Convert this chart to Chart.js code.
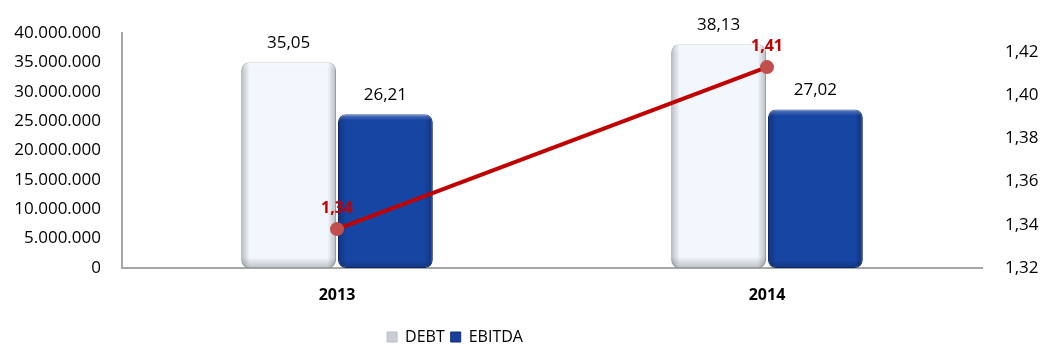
<!DOCTYPE html>
<html>
<head>
<meta charset="utf-8">
<script src="https://cdn.jsdelivr.net/npm/chart.js@4"></script>
<style>
  html, body { margin: 0; padding: 0; background: #ffffff; }
  #wrap { width: 1046px; height: 349px; position: relative; }
</style>
</head>
<body>
<div id="wrap"><canvas id="c" width="1046" height="349"></canvas></div>
<script>
// ---- data ----
const categories = ['2013', '2014'];
const debtValues = [35050000, 38130000];
const ebitdaValues = [26210000, 27020000];
const ratioValues = [1.338, 1.413];
const leftTicks = [0, 5000000, 10000000, 15000000, 20000000, 25000000, 30000000, 35000000, 40000000];
const rightTicks = [1.32, 1.34, 1.36, 1.38, 1.40, 1.42];

const FONT = "'Open Sans', 'DejaVu Sans', sans-serif";

function thousands(v) {
  return String(Math.round(v)).replace(/\B(?=(\d{3})+(?!\d))/g, '.');
}
function comma2(v) { return v.toFixed(2).replace('.', ','); }

const barShade = {
  id: 'barShade',
  afterDatasetDraw(chart, args) {
    const meta = args.meta;
    if (meta.type !== 'bar') return;
    const ctx = chart.ctx;
    meta.data.forEach(el => {
      const p = el.getProps(['x', 'y', 'base', 'width'], true);
      const l = p.x - p.width / 2, r = p.x + p.width / 2;
      const t = Math.min(p.y, p.base), b = Math.max(p.y, p.base);
      ctx.save();
      ctx.beginPath();
      ctx.roundRect(l, t, r - l, b - t, 8);
      ctx.clip();
      const g = ctx.createLinearGradient(l, 0, r, 0);
      g.addColorStop(0, 'rgba(0,0,0,0.24)');
      g.addColorStop(0.09, 'rgba(0,0,0,0)');
      g.addColorStop(0.91, 'rgba(0,0,0,0)');
      g.addColorStop(1, 'rgba(0,0,0,0.24)');
      ctx.fillStyle = g;
      ctx.fillRect(l, t, r - l, b - t);
      const gv = ctx.createLinearGradient(0, t, 0, b);
      gv.addColorStop(0, 'rgba(255,255,255,0.3)');
      gv.addColorStop(0.04, 'rgba(255,255,255,0)');
      gv.addColorStop(0.95, 'rgba(0,0,0,0)');
      gv.addColorStop(1, 'rgba(0,0,0,0.22)');
      ctx.fillStyle = gv;
      ctx.fillRect(l, t, r - l, b - t);
      ctx.restore();
    });
  }
};

const valueLabels = {
  id: 'valueLabels',
  afterDatasetsDraw(chart) {
    const ctx = chart.ctx;
    ctx.save();
    ctx.textAlign = 'center';
    ctx.textBaseline = 'middle';
    chart.data.datasets.forEach((ds, di) => {
      const meta = chart.getDatasetMeta(di);
      meta.data.forEach((el, i) => {
        const v = ds.data[i];
        if (meta.type === 'bar') {
          ctx.font = '17px ' + FONT;
          ctx.fillStyle = '#000000';
          ctx.fillText(comma2(v / 1000000), el.x, el.y - 19);
        } else {
          ctx.font = 'bold 16px ' + FONT;
          ctx.fillStyle = '#c00000';
          ctx.fillText(comma2(v), el.x, el.y - 21);
        }
      });
    });
    ctx.restore();
  }
};

const legendShift = {
  id: 'legendShift',
  afterLayout(chart) {
    const lg = chart.legend;
    if (!lg) return;
    lg.left = 0;
    lg.right = 910;
    lg.width = 910;
  }
};

new Chart(document.getElementById('c'), {
  data: {
    labels: categories,
    datasets: [
      {
        type: 'line',
        label: 'DEBT/EBITDA',
        data: ratioValues,
        yAxisID: 'y2',
        borderColor: '#c00000',
        borderWidth: 4,
        pointRadius: 7,
        pointBackgroundColor: '#c0504d',
        pointBorderColor: '#c0504d',
        pointBorderWidth: 0,
        order: 0
      },
      {
        type: 'bar',
        label: 'DEBT',
        data: debtValues,
        yAxisID: 'y',
        backgroundColor: '#f2f6fd',
        borderColor: '#c3c8d0',
        borderWidth: 1,
        borderRadius: 8,
        borderSkipped: false,
        barPercentage: 0.98,
        categoryPercentage: 0.45,
        order: 1
      },
      {
        type: 'bar',
        label: 'EBITDA',
        data: ebitdaValues,
        yAxisID: 'y',
        backgroundColor: '#1745a4',
        borderColor: '#0b2f86',
        borderWidth: 1,
        borderRadius: 8,
        borderSkipped: false,
        barPercentage: 0.98,
        categoryPercentage: 0.45,
        order: 1
      }
    ]
  },
  options: {
    responsive: false,
    animation: false,
    layout: { padding: { top: 31, bottom: -6, left: 0, right: 0 } },
    plugins: {
      tooltip: { enabled: false },
      legend: {
        position: 'bottom',
        labels: {
          font: { family: FONT, size: 16 },
          color: '#000000',
          boxWidth: 10,
          boxHeight: 10,
          padding: 6,
          filter: item => item.text !== 'DEBT/EBITDA',
          generateLabels(chart) {
            const items = Chart.defaults.plugins.legend.labels.generateLabels(chart);
            items.forEach(it => {
              if (it.text === 'DEBT') { it.fillStyle = '#c9cdd5'; it.strokeStyle = '#b8bcc4'; }
              if (it.text === 'EBITDA') { it.fillStyle = '#1a3f9a'; it.strokeStyle = '#0b2f86'; }
              it.lineWidth = 1;
            });
            return items;
          }
        }
      }
    },
    scales: {
      x: {
        grid: { display: false, drawTicks: false },
        border: { display: true, color: '#a6a6a6', width: 2 },
        ticks: { font: { family: FONT, size: 16, weight: 'bold' }, color: '#000000', padding: 18 },
        afterFit(s) { s.height = 55; }
      },
      y: {
        position: 'left',
        min: 0,
        max: 40000000,
        grid: { display: false, drawTicks: false },
        border: { display: true, color: '#a6a6a6', width: 2 },
        afterBuildTicks(s) { s.ticks = leftTicks.map(v => ({ value: v })); },
        ticks: {
          font: { family: FONT, size: 17 },
          color: '#000000',
          padding: 21,
          callback: v => thousands(v)
        },
        afterFit(s) { s.width = 122; }
      },
      y2: {
        position: 'right',
        min: 1.32,
        max: 1.4287,
        grid: { display: false, drawTicks: false },
        border: { display: false },
        afterBuildTicks(s) { s.ticks = rightTicks.map(v => ({ value: v })); },
        ticks: {
          font: { family: FONT, size: 17 },
          color: '#000000',
          padding: 23,
          callback: v => comma2(v)
        },
        afterFit(s) { s.width = 64; }
      }
    }
  },
  plugins: [barShade, valueLabels, legendShift]
});
</script>
</body>
</html>
